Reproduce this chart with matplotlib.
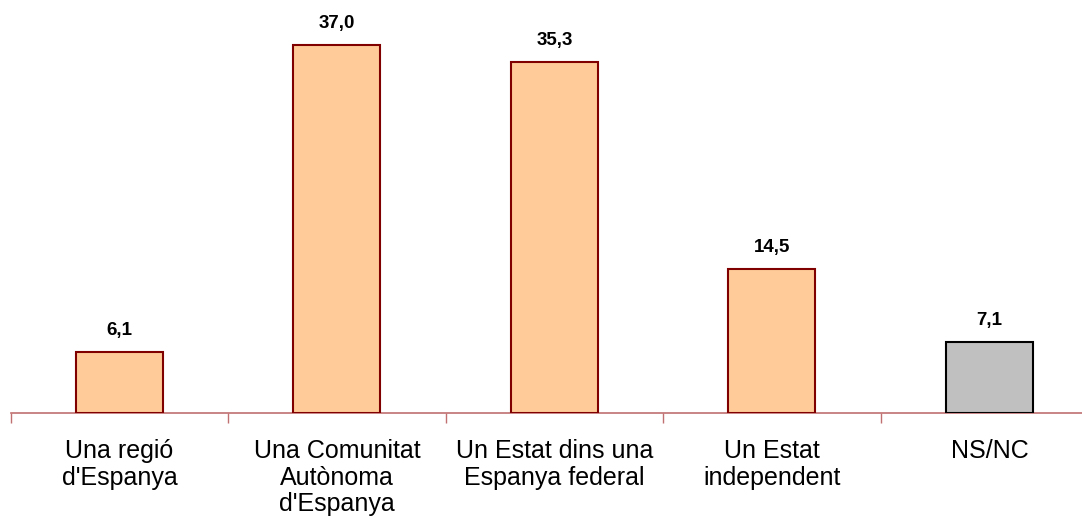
import matplotlib.pyplot as plt

plt.rcParams['font.family'] = ['Liberation Sans', 'DejaVu Sans']

categories = ["Una regió\nd'Espanya", "Una Comunitat\nAutònoma\nd'Espanya",
              "Un Estat dins una\nEspanya federal", "Un Estat\nindependent", "NS/NC"]
values = [6.1, 37.0, 35.3, 14.5, 7.1]
fills = ['#ffcc99', '#ffcc99', '#ffcc99', '#ffcc99', '#c0c0c0']
edges = ['#800000', '#800000', '#800000', '#800000', '#000000']

fig = plt.figure(figsize=(10.82, 5.25), dpi=100)
ax = fig.add_axes([0.00994, 0.2133, 1.005, 0.758])

x = range(len(values))
bars = ax.bar(x, values, width=0.4, color=fills, edgecolor=edges, linewidth=1.5, zorder=3)

for b, v in zip(bars, values):
    ax.text(b.get_x() + b.get_width() / 2, v + 1.3, f'{v:.1f}'.replace('.', ','),
            ha='center', va='bottom', fontsize=13.5, fontweight='bold')

ax.set_xlim(-0.5, len(values) - 0.5)
ax.set_ylim(0, 40)

# boundary ticks on major, category labels on minor
ax.set_xticks([i - 0.5 for i in range(len(values) + 1)])
ax.set_xticklabels([])
ax.set_xticks(list(x), minor=True)
ax.set_xticklabels(categories, minor=True, fontsize=18, linespacing=1.13)
ax.tick_params(axis='x', which='major', length=7, width=1, color='#c07070', direction='out')
ax.tick_params(axis='x', which='minor', length=0, pad=19)

ax.set_yticks([])
for s in ['top', 'right', 'left']:
    ax.spines[s].set_visible(False)
ax.spines['bottom'].set_color('#c07070')
ax.spines['bottom'].set_linewidth(1.2)

fig.savefig('out.png', dpi=100)
